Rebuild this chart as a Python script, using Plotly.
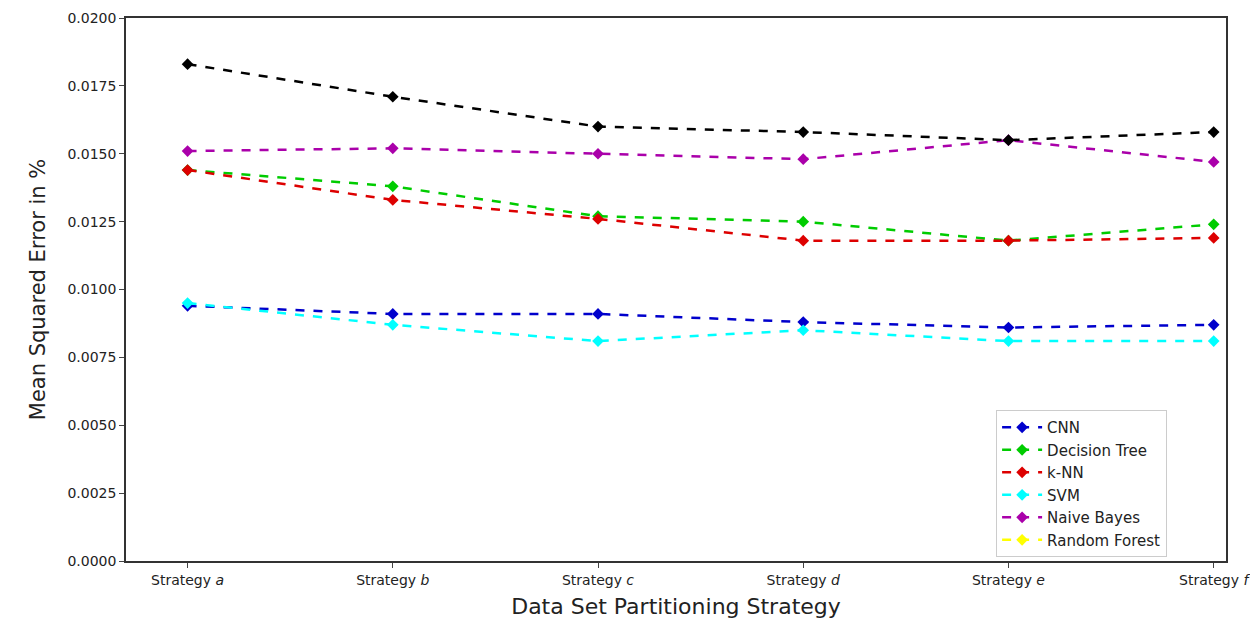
import plotly.graph_objs as go

strategies = ["Strategy <i>a</i>", "Strategy <i>b</i>", "Strategy <i>c</i>",
              "Strategy <i>d</i>", "Strategy <i>e</i>", "Strategy <i>f</i>"]
cnn = [0.0094, 0.0091, 0.0091, 0.0088, 0.0086, 0.0087]
decision_tree = [0.0144, 0.0138, 0.0127, 0.0125, 0.0118, 0.0124]
knn = [0.0144, 0.0133, 0.0126, 0.0118, 0.0118, 0.0119]
svm = [0.0095, 0.0087, 0.0081, 0.0085, 0.0081, 0.0081]
naive_bayes = [0.0151, 0.0152, 0.0150, 0.0148, 0.0155, 0.0147]
random_forest = [0.0183, 0.0171, 0.0160, 0.0158, 0.0155, 0.0158]

x = list(range(len(strategies)))
fig = go.Figure()

def add(name, xs, y, color, legend=True):
    fig.add_trace(go.Scatter(
        x=xs, y=y, name=name, mode="lines+markers", showlegend=legend,
        line=dict(color=color, width=2.5, dash="dash"),
        marker=dict(symbol="diamond", size=9, color=color),
    ))

add("CNN", x, cnn, "#0000cc")
add("Decision Tree", x, decision_tree, "#00cc00")
add("k-NN", x, knn, "#dd0000")
add("SVM", x, svm, "cyan")
add("Naive Bayes", x, naive_bayes, "#aa00aa")
# in the original the Random Forest series is drawn black, legend entry yellow
add("Random Forest", [None], [None], "yellow")
add("RF", x, random_forest, "black", legend=False)

fig.update_layout(
    width=1258, height=625,
    plot_bgcolor="white", paper_bgcolor="white",
    font=dict(family="DejaVu Sans", color="#222", size=14),
    margin=dict(l=118, r=40, t=10, b=72, autoexpand=False),
    xaxis=dict(tickvals=x, ticktext=strategies, range=[-0.3, 5.06],
               showline=True, mirror=True, linecolor="#333", linewidth=1.5,
               ticks="outside", ticklen=5, showgrid=False, zeroline=False,
               automargin=False, tickfont=dict(size=14),
               title=dict(text="Data Set Partitioning Strategy", font=dict(size=22), standoff=12)),
    yaxis=dict(range=[0, 0.02], dtick=0.0025, tickformat=".4f",
               showline=True, mirror=True, linecolor="#333", linewidth=1.5,
               ticks="outside", ticklen=5, showgrid=False, zeroline=False,
               automargin=False, tickfont=dict(size=14),
               title=dict(text="Mean Squared Error in %", font=dict(size=21), standoff=16)),
    legend=dict(x=0.791, y=0.278, xanchor="left", yanchor="top",
                bordercolor="#ccc", borderwidth=1, bgcolor="white",
                font=dict(size=15), tracegroupgap=0, itemwidth=40),
)

fig.write_html("out.html")
